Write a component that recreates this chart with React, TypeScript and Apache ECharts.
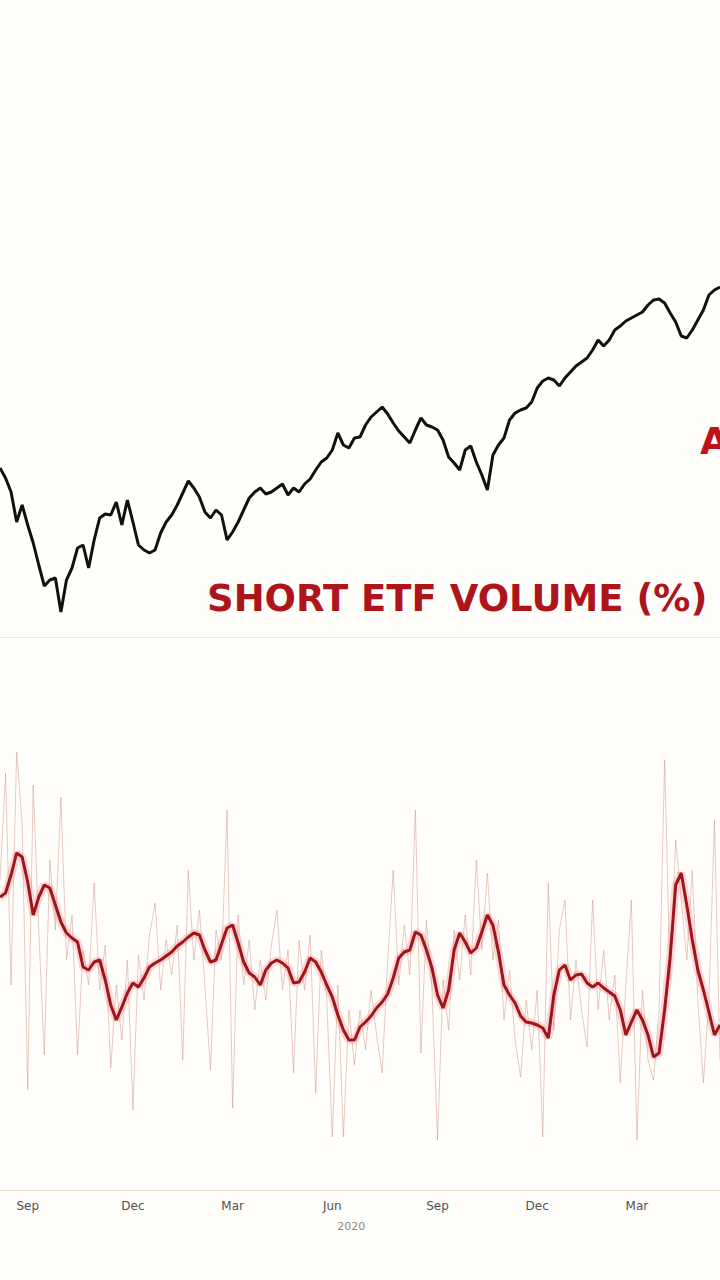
import React, { useEffect, useRef } from "react";
import * as echarts from "echarts";

// ---- Data ----
const START_DATE = "2019-08-05";
const STEP_DAYS = 5;

// Price index level (top panel)
const priceValues = [
  169, 159, 145, 115, 132, 112, 94, 72, 51, 57,
  59, 25, 57, 69, 89, 92, 69, 97, 119, 123,
  122, 135, 112, 137, 115, 92, 87, 84, 87, 104,
  115, 122, 132, 144, 156, 149, 140, 125, 119, 127,
  122, 97, 105, 115, 127, 139, 145, 149, 143, 145,
  149, 153, 142, 149, 145, 153, 158, 167, 175, 179,
  187, 204, 192, 189, 199, 200, 212, 220, 225, 230,
  223, 214, 206, 200, 194, 207, 219, 212, 210, 207,
  197, 180, 174, 167, 187, 191, 175, 162, 147, 182,
  192, 199, 217, 224, 227, 229, 235, 249, 256, 259,
  257, 251, 259, 265, 271, 275, 279, 287, 297, 291,
  297, 307, 311, 316, 319, 322, 325, 332, 337, 338,
  334, 324, 315, 301, 299, 307, 317, 327, 342, 347,
  350,
];

// Short ETF volume (%) - daily
const shortVolumeDaily = [
  31.0, 41.7, 20.5, 43.8, 36.7, 10.0, 40.5, 26.0, 13.5, 33.0,
  26.0, 39.3, 23.0, 27.5, 13.5, 24.0, 20.5, 30.7, 20.0, 24.5,
  12.2, 20.5, 15.0, 23.0, 8.0, 23.5, 19.0, 25.5, 28.7, 20.0,
  25.0, 21.5, 26.5, 13.0, 32.0, 23.0, 28.0, 20.5, 12.0, 26.0,
  23.0, 38.0, 8.2, 27.5, 20.5, 25.0, 18.0, 23.0, 19.0, 24.5,
  28.0, 20.0, 24.0, 11.7, 25.0, 20.0, 25.5, 9.7, 24.0, 19.0,
  5.3, 20.5, 5.3, 18.0, 12.5, 18.0, 14.0, 20.0, 15.5, 11.7,
  23.0, 32.0, 20.5, 26.5, 21.5, 38.0, 13.7, 27.0, 20.0, 5.0,
  21.0, 16.0, 26.0, 21.0, 27.5, 21.5, 33.0, 24.0, 31.7, 23.0,
  27.0, 17.0, 22.0, 15.0, 11.3, 19.0, 14.0, 20.0, 5.3, 30.7,
  16.0, 26.0, 29.0, 17.0, 23.0, 18.0, 14.3, 29.0, 18.0, 24.0,
  17.0, 21.5, 10.7, 20.5, 29.0, 5.0, 20.0, 13.0, 11.0, 18.0,
  43.0, 21.0, 35.0, 29.0, 23.0, 32.0, 19.0, 10.7, 19.0, 37.0,
  13.0,
];

// Short ETF volume (%) - moving average
const shortVolumeAvg = [
  29.3, 29.7, 31.5, 33.7, 33.3, 30.8, 27.5, 29.3, 30.5, 30.2,
  28.5, 26.8, 25.7, 25.2, 24.8, 22.3, 22.0, 22.8, 23.0, 21.0,
  18.5, 17.0, 18.3, 19.7, 20.7, 20.3, 21.2, 22.3, 22.7, 23.0,
  23.4, 23.8, 24.4, 24.8, 25.3, 25.7, 25.5, 24.0, 22.8, 23.0,
  24.6, 26.2, 26.5, 24.7, 22.8, 21.7, 21.3, 20.5, 22.0, 22.7,
  23.0, 22.7, 22.2, 20.7, 20.8, 21.8, 23.2, 22.8, 21.8, 20.5,
  19.3, 17.5, 16.0, 15.0, 15.0, 16.3, 16.8, 17.4, 18.2, 18.8,
  19.6, 21.2, 23.2, 23.8, 24.0, 25.8, 25.5, 24.0, 22.2, 19.5,
  18.2, 20.0, 24.0, 25.7, 24.8, 23.7, 24.2, 25.8, 27.5, 26.5,
  23.8, 20.5, 19.5, 18.7, 17.4, 16.8, 16.7, 16.5, 16.2, 15.2,
  19.5, 22.0, 22.5, 21.0, 21.5, 21.6, 20.7, 20.3, 20.7, 20.2,
  19.8, 19.4, 18.0, 15.5, 16.8, 18.0, 17.0, 15.5, 13.3, 13.7,
  18.0, 23.3, 30.5, 31.7, 28.5, 25.0, 22.0, 20.0, 17.8, 15.5,
  16.5,
];

const tickDates = ["2019-09-01", "2019-12-01", "2020-03-01", "2020-06-01", "2020-09-01", "2020-12-01", "2021-03-01"];
const tickLabels = ["Sep", "Dec", "Mar", "Jun", "Sep", "Dec", "Mar"];
const yearLabel = "2020";
const yearTickIndex = 3;

const titleText = "SHORT ETF VOLUME (%)";
const cutLabelText = "A";

// ---- Build categories ----
function buildDates(): string[] {
  const out: string[] = [];
  const start = new Date(START_DATE + "T00:00:00Z").getTime();
  for (let i = 0; i < priceValues.length; i++) {
    const d = new Date(start + i * STEP_DAYS * 86400000);
    out.push(d.toISOString().slice(0, 10));
  }
  return out;
}

export default function App() {
  const ref = useRef<HTMLDivElement>(null);

  useEffect(() => {
    if (!ref.current) return;
    const chart = echarts.init(ref.current, undefined, { renderer: "svg" });
    const dates = buildDates();
    const times = dates.map((d) => new Date(d + "T00:00:00Z").getTime());

    const labelMap = new Map<number, { text: string; withYear: boolean }>();
    tickDates.forEach((td, k) => {
      const t = new Date(td + "T00:00:00Z").getTime();
      let best = 0;
      let bestDiff = Infinity;
      times.forEach((tt, idx) => {
        const diff = Math.abs(tt - t);
        if (diff < bestDiff) {
          bestDiff = diff;
          best = idx;
        }
      });
      labelMap.set(best, { text: tickLabels[k], withYear: k === yearTickIndex });
    });

    const labelFont = "DejaVu Sans";
    const titleFont = "bold 37px 'DejaVu Sans', sans-serif";

    chart.setOption({
      animation: false,
      backgroundColor: "#fffefb",
      grid: [
        { left: 0, right: 0, top: 277, height: 360 },
        { left: 0, right: 0, top: 740, height: 450 },
      ],
      xAxis: [
        {
          type: "category",
          gridIndex: 0,
          data: dates,
          boundaryGap: false,
          axisLine: { show: true, lineStyle: { color: "#f3e1d7", width: 1 } },
          axisTick: { show: false },
          axisLabel: { show: false },
          splitLine: { show: false },
        },
        {
          type: "category",
          gridIndex: 1,
          data: dates,
          boundaryGap: false,
          axisLine: { show: true, lineStyle: { color: "#e9d8c6", width: 1 } },
          axisTick: { show: false },
          splitLine: { show: false },
          axisLabel: {
            interval: (idx: number) => labelMap.has(idx),
            formatter: (_val: string, idx: number) => {
              const l = labelMap.get(idx);
              if (!l) return "";
              return l.withYear ? `{m|${l.text}}\n{y|${yearLabel}}` : `{m|${l.text}}`;
            },
            margin: 8,
            rich: {
              m: { fontSize: 12, color: "#505050", fontFamily: labelFont, lineHeight: 16 },
              y: { fontSize: 11, color: "#8a8a8a", fontFamily: labelFont, lineHeight: 18, padding: [6, 0, 0, 38] },
            },
          },
        },
      ],
      yAxis: [
        { type: "value", gridIndex: 0, min: 0, max: 360, show: false },
        { type: "value", gridIndex: 1, min: 0, max: 45, show: false },
      ],
      series: [
        {
          name: "Price",
          type: "line",
          xAxisIndex: 0,
          yAxisIndex: 0,
          data: priceValues,
          symbol: "none",
          lineStyle: { color: "#111111", width: 3 },
        },
        {
          name: "Short ETF volume (daily)",
          type: "line",
          xAxisIndex: 1,
          yAxisIndex: 1,
          data: shortVolumeDaily,
          symbol: "none",
          lineStyle: { color: "rgba(205,150,135,0.5)", width: 1 },
        },
        {
          name: "glow",
          type: "line",
          xAxisIndex: 1,
          yAxisIndex: 1,
          data: shortVolumeAvg,
          symbol: "none",
          silent: true,
          lineStyle: { color: "rgba(240,110,110,0.28)", width: 8 },
        },
        {
          name: "Short ETF volume (avg)",
          type: "line",
          xAxisIndex: 1,
          yAxisIndex: 1,
          data: shortVolumeAvg,
          symbol: "none",
          lineStyle: { color: "#9e151c", width: 3 },
        },
      ],
      graphic: [
        {
          type: "text",
          left: 207,
          top: 580,
          style: {
            text: titleText,
            fill: "#ad141c",
            font: titleFont,
          },
        },
        {
          type: "text",
          left: 700,
          top: 423,
          style: {
            text: cutLabelText,
            fill: "#c0121b",
            font: titleFont,
          },
        },
      ],
    });

    return () => chart.dispose();
  }, []);

  return (
    <div
      ref={ref}
      style={{ position: "fixed", left: 0, top: 0, width: 720, height: 1280 }}
    />
  );
}
